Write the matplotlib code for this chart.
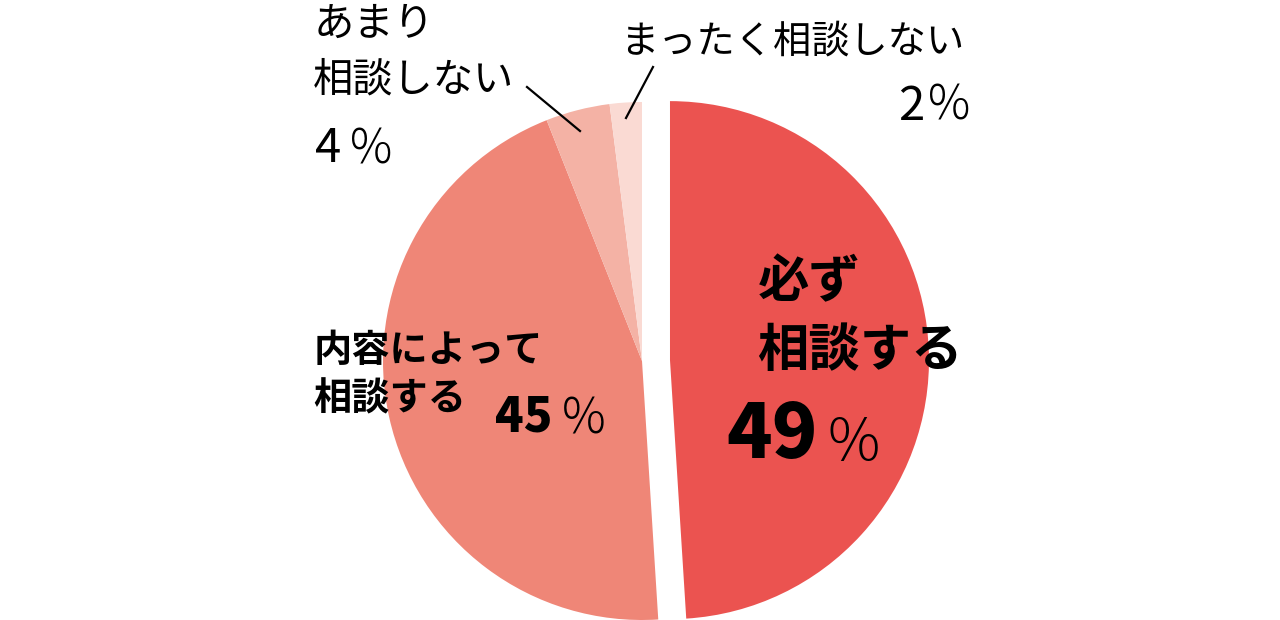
import matplotlib
matplotlib.use("Agg")
import matplotlib.pyplot as plt

plt.rcParams['font.family'] = ['Noto Sans CJK JP', 'DejaVu Sans']

categories = ["必ず相談する", "内容によって相談する", "あまり相談しない", "まったく相談しない"]
values = [49, 45, 4, 2]
colors = ["#EB5350", "#EF8677", "#F4B2A5", "#FADAD3"]

W, H = 1280, 620
fig = plt.figure(figsize=(12.8, 6.2), dpi=100)
ax = fig.add_axes([0, 0, 1, 1])

R = 259
cx, cy = 642, H - 361
explode = [28, 0, 0, 0]
ax.pie(values, colors=colors, explode=explode, startangle=90, counterclock=False,
       radius=R, center=(cx, cy), frame=True, wedgeprops=dict(linewidth=0))
ax.set_xlim(0, W)
ax.set_ylim(0, H)
ax.set_aspect('equal')
ax.axis('off')


def t(x, y, s, size, weight='normal', ha='left'):
    ax.text(x, H - y, s, fontsize=size, fontweight=weight, ha=ha, va='baseline', color='black')


# あまり相談しない
t(314, 36, "あまり", 29)
t(313, 92, "相談しない", 29)
t(315, 162, f"{values[2]}", 34)
t(350, 163, "%", 34, weight='light')
ax.plot([527, 580], [H - 87, H - 131], color='black', lw=1.6)

# まったく相談しない
t(620, 53, "まったく相談しない", 27.5)
t(898, 120, f"{values[3]}", 34)
t(928, 120, "%", 34, weight='light')
ax.plot([653, 626], [H - 67, H - 118], color='black', lw=1.6)

# 内容によって相談する
t(314, 362, "内容によって", 27.5, weight='bold')
t(313, 410, "相談する", 27.5, weight='bold')
t(495, 432, f"{values[1]}", 34, weight='heavy')
t(562, 433, "%", 35, weight='light')

# 必ず相談する
t(758, 297, "必ず", 37, weight='bold')
t(757, 366, "相談する", 37, weight='bold')
t(726, 458, f"{values[0]}", 54, weight='heavy')
t(828, 460, "%", 42, weight='light')

fig.savefig("out.png", dpi=100)
